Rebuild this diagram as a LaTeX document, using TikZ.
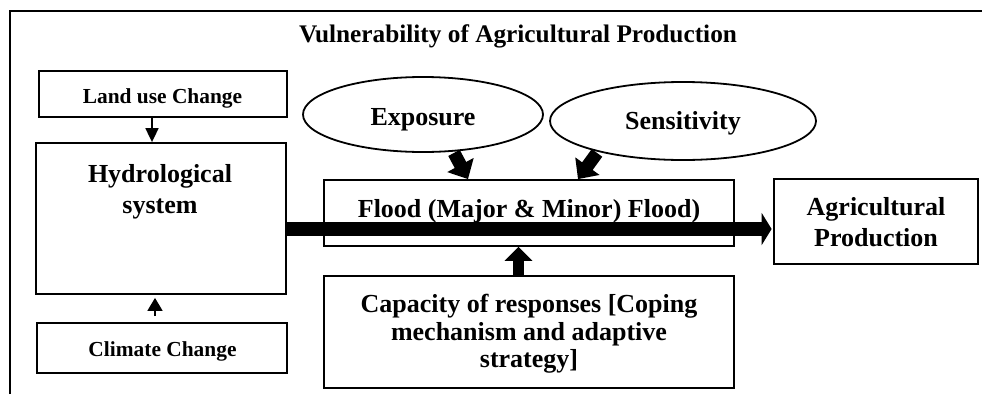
\documentclass[tikz,border=0pt]{standalone}
\usepackage{fontspec}
\setmainfont{Liberation Serif}
\usetikzlibrary{arrows.meta,shapes.geometric}
\begin{document}
\begin{tikzpicture}[x=1pt,y=-1pt,
  box/.style={draw, line width=1.8pt, inner sep=0pt, rectangle},
  oval/.style={draw, line width=1.8pt, ellipse, inner sep=0pt},
  txt/.style={font=\bfseries\fontsize{26}{31}\selectfont, anchor=base, inner sep=0pt},
  stxt/.style={font=\bfseries\fontsize{21.4}{25}\selectfont, anchor=base, inner sep=0pt},
  ttl/.style={font=\bfseries\fontsize{25.3}{30}\selectfont, anchor=base, inner sep=0pt},
  thinarrow/.style={line width=1.8pt, -{Triangle[length=14pt,width=13pt]}},
  fatarrow/.style={line width=11pt, -{Triangle[length=14pt,width=27pt]}},
  diagarrow/.style={line width=13pt, -{Triangle[length=16pt,width=29pt]}},
  bigarrow/.style={line width=14pt, -{Triangle[length=10pt,width=32pt]}}]
\useasboundingbox (0,0) rectangle (982,394);
% outer frame (cropped)
\draw[line width=1.5pt] (10,394) -- (10,11) -- (982,11);
% title
\node[ttl] (title) at (518,42) {Vulnerability of Agricultural Production};
% boxes
\node[box, minimum width=248pt, minimum height=46pt] (land) at (163,94) {};
\node[box, minimum width=250pt, minimum height=151pt] (hyd) at (161,218.5) {};
\node[box, minimum width=250pt, minimum height=50pt] (clim) at (162,348) {};
\node[box, minimum width=410pt, minimum height=66pt] (flood) at (529,213) {};
\node[box, minimum width=204pt, minimum height=85pt] (agri) at (876,221.5) {};
\node[box, minimum width=410pt, minimum height=112pt] (cap) at (529,332) {};
% ellipses
\node[oval, minimum width=240pt, minimum height=75pt] (expo) at (423,114.5) {};
\node[oval, minimum width=266pt, minimum height=78pt] (sens) at (683,121) {};
% texts
\node[stxt] (landt) at (162.5,103) {Land use Change};
\node[stxt] (climt) at (162.5,356) {Climate Change};
\node[txt] (hydt1) at (160,182) {Hydrological};
\node[txt] (hydt2) at (160,213) {system};
\node[txt] (expot) at (423,125) {Exposure};
\node[txt] (senst) at (683,129) {Sensitivity};
\node[txt] (floodt) at (529,217) {Flood (Major \& Minor) Flood)};
\node[txt] (agrit1) at (876,215) {Agricultural};
\node[txt] (agrit2) at (876,246) {Production};
\node[txt] (capt1) at (529,312) {Capacity of responses [Coping};
\node[txt] (capt2) at (529,340) {mechanism and adaptive};
\node[txt] (capt3) at (529,367) {strategy]};
% helper coordinates
\coordinate (ax1) at (152,0);
\coordinate (ax2) at (155,0);
\coordinate (fy) at (0,229);
% connectors
\draw[thinarrow] (land.south -| ax1) -- (hyd.north -| ax1);
\draw[line width=1.8pt, -{Triangle[length=13pt,width=15pt]}, shorten <=6pt, shorten >=3pt] (clim.north -| ax2) -- (hyd.south -| ax2);
\draw[bigarrow, shorten >=1.5pt] (hyd.east |- fy) -- (agri.west |- fy);
\draw[diagarrow] ([xshift=31pt]expo.south) -- ([xshift=-61pt]flood.north);
\draw[diagarrow] ([xshift=-86pt,yshift=8pt]sens.south) -- ([xshift=49pt]flood.north);
\draw[fatarrow] ([xshift=-10.5pt]cap.north) -- ([xshift=-10.5pt]flood.south);
\end{tikzpicture}
\end{document}
